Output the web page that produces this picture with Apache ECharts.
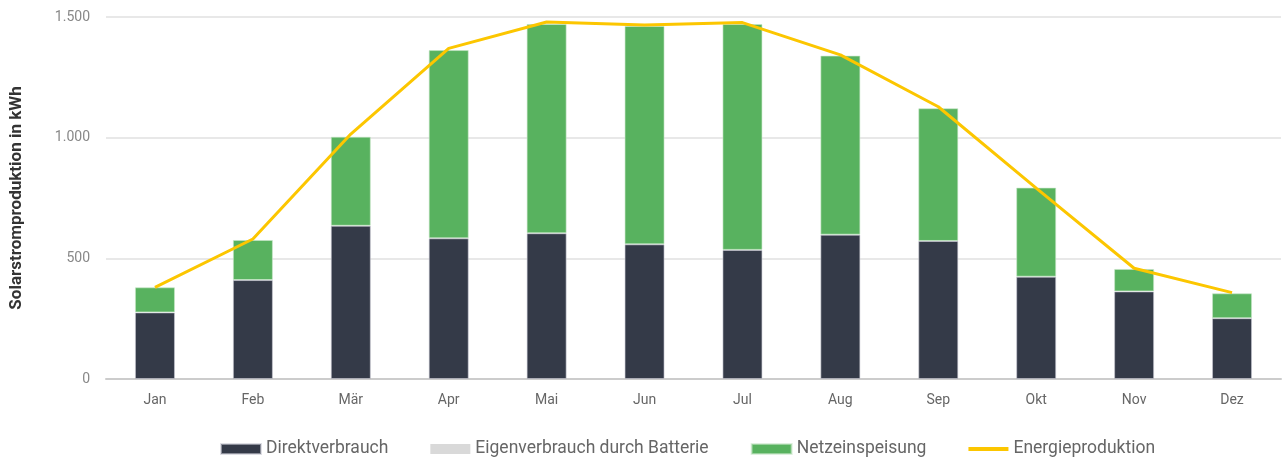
<!DOCTYPE html>
<html>
<head>
<meta charset="utf-8">
<script src="https://cdn.jsdelivr.net/npm/echarts@6/dist/echarts.min.js"></script>
<style>
  html, body { margin: 0; padding: 0; background: #fff; }
  #chart { width: 1282px; height: 459px; }
</style>
</head>
<body>
<div id="chart"></div>
<script>
const months = ['Jan', 'Feb', 'Mär', 'Apr', 'Mai', 'Jun', 'Jul', 'Aug', 'Sep', 'Okt', 'Nov', 'Dez']
const direkt = [276, 410, 635, 583, 604, 558, 535, 598, 572, 424, 363, 252]
const batterie = [0, 0, 0, 0, 0, 0, 0, 0, 0, 0, 0, 0]
const netz = [104, 166, 369, 780, 867, 905, 936, 742, 550, 369, 93, 103]
const produktion = [380, 580, 1015, 1370, 1479, 1467, 1477, 1343, 1128, 791, 459, 358]

const chart = echarts.init(document.getElementById('chart'))

// German thousands separator
const fmt = v => String(v).replace(/\B(?=(\d{3})+(?!\d))/g, '.')

const option = {
  animation: false,
  textStyle: { fontFamily: 'Roboto, sans-serif' },
  grid: { left: 106, right: 1, top: 17, bottom: 80 },
  legend: {
    left: 215,
    top: 435,
    itemWidth: 40,
    itemHeight: 10,
    itemGap: 42,
    textStyle: { color: '#666', fontSize: 17.5 },
    data: [
      { name: 'Direktverbrauch', icon: 'rect' },
      { name: 'Eigenverbrauch durch Batterie', icon: 'rect' },
      { name: 'Netzeinspeisung', icon: 'rect' },
      { name: 'Energieproduktion', icon: 'path://M0,0 H40 V4 H0 Z' }
    ]
  },
  xAxis: {
    type: 'category',
    data: months,
    axisLine: { lineStyle: { color: '#ccc', width: 2 } },
    axisTick: { show: false },
    axisLabel: { color: '#666', fontSize: 14, margin: 14 }
  },
  yAxis: {
    type: 'value',
    min: 0,
    max: 1500,
    interval: 500,
    name: 'Solarstromproduktion in kWh',
    nameLocation: 'middle',
    nameGap: 81,
    nameTextStyle: { color: '#333', fontSize: 17, fontWeight: 'bold' },
    axisLabel: { color: '#888', fontSize: 14, margin: 16, formatter: fmt },
    splitLine: { lineStyle: { color: '#e8e8e8', width: 2 } }
  },
  series: [
    {
      name: 'Direktverbrauch',
      type: 'bar',
      stack: 'total',
      barWidth: 40,
      data: direkt,
      itemStyle: { color: '#343a48', borderColor: 'rgba(200,200,210,0.6)', borderWidth: 1 }
    },
    {
      name: 'Eigenverbrauch durch Batterie',
      type: 'bar',
      stack: 'total',
      barWidth: 40,
      data: batterie,
      itemStyle: { color: '#d9d9d9' }
    },
    {
      name: 'Netzeinspeisung',
      type: 'bar',
      stack: 'total',
      barWidth: 40,
      data: netz,
      itemStyle: { color: '#58b25f', borderColor: 'rgba(200,230,200,0.6)', borderWidth: 1 }
    },
    {
      name: 'Energieproduktion',
      type: 'line',
      data: produktion,
      symbol: 'none',
      z: 5,
      lineStyle: { color: '#fcc600', width: 3 },
      itemStyle: { color: '#fcc600' }
    }
  ]
}

option && chart.setOption(option)
</script>
</body>
</html>
